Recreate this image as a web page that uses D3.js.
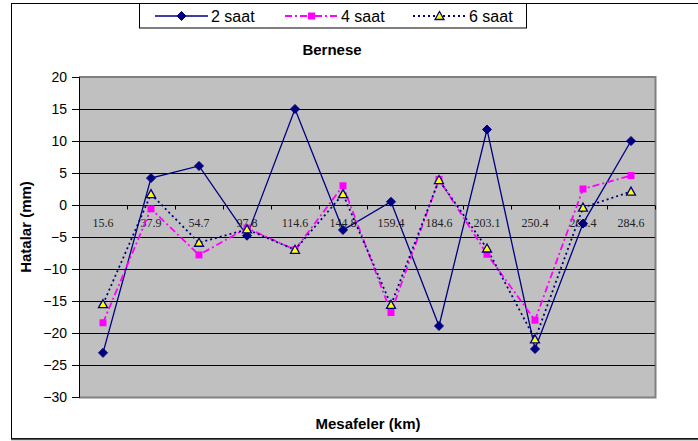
<!DOCTYPE html>
<html>
<head>
<meta charset="utf-8">
<script src="https://cdn.jsdelivr.net/npm/d3@7"></script>
<style>
  body { margin: 0; background: #fff; }
  svg { display: block; font-family: "Liberation Sans", Arial, sans-serif; }
</style>
</head>
<body>
<svg id="chart" width="698" height="441"></svg>
<script>
var distances = ["15.6", "37.9", "54.7", "97.8", "114.6", "144.8", "159.4", "184.6", "203.1", "250.4", "266.4", "284.6"];
var saat2 = [-23.1, 4.2, 6.1, -4.8, 15.0, -3.9, 0.5, -18.9, 11.8, -22.5, -2.9, 10.0];
var saat4 = [-18.4, -0.6, -7.8, -3.6, -7.0, 3.0, -16.8, 4.0, -7.7, -18.0, 2.5, 4.6];
var saat6 = [-15.5, 1.7, -5.9, -3.8, -7.0, 1.7, -15.6, 3.9, -6.8, -21.0, -0.4, 2.1];
var yTicks = [-30, -25, -20, -15, -10, -5, 0, 5, 10, 15, 20];

var series = [
  { name: "2 saat", values: saat2, color: "#000080", dash: null, marker: "diamond" },
  { name: "4 saat", values: saat4, color: "#ff00ff", dash: "7,3,2,3", marker: "square" },
  { name: "6 saat", values: saat6, color: "#000080", dash: "2,3", marker: "triangle" }
];

var svg = d3.select("#chart");
var plotL = 79, plotR = 655, plotT = 77, plotB = 397;

var x = d3.scaleBand().domain(distances).range([plotL, plotR]).padding(0);
var y = d3.scaleLinear().domain([-30, 20]).range([plotB, plotT]);

// outer chart border
svg.append("rect")
  .attr("x", 11.5).attr("y", 3.5).attr("width", 700).attr("height", 435)
  .style("fill", "none").style("stroke", "#000").style("stroke-width", 1);
svg.append("line")
  .attr("x1", 11).attr("x2", 698).attr("y1", 439.5).attr("y2", 439.5)
  .style("stroke", "#555").style("stroke-width", 1.5);

// plot area
svg.append("rect")
  .attr("x", plotL).attr("y", plotT).attr("width", plotR - plotL).attr("height", plotB - plotT)
  .style("fill", "#c0c0c0");
svg.append("path")
  .attr("d", "M" + plotL + "," + plotT + "H" + (plotR + 0.5) + "V" + (plotB + 0.5) + "H" + plotL)
  .style("fill", "none").style("stroke", "#808080").style("stroke-width", 2);

// gridlines
svg.selectAll("line.grid")
  .data(yTicks.filter(function(d) { return d > -30 && d < 20; }))
  .enter().append("line")
  .attr("class", "grid")
  .attr("x1", plotL).attr("x2", plotR)
  .attr("y1", function(d) { return Math.round(y(d)) + 0.5; })
  .attr("y2", function(d) { return Math.round(y(d)) + 0.5; })
  .style("stroke", "#000").style("stroke-width", 1);

// y axis
var yAxis = svg.append("g")
  .attr("transform", "translate(" + plotL + ",0)")
  .call(d3.axisLeft(y).tickValues(yTicks).tickSize(7).tickPadding(5));
yAxis.select(".domain").style("stroke", "#000");
yAxis.selectAll("text").style("font-size", "14px").style("fill", "#000");

// x axis on zero line, ticks at band edges
var zeroY = Math.round(y(0)) + 0.5;
var edges = distances.map(function(d) { return x(d); }).concat([plotR]);
svg.selectAll("line.xtick")
  .data(edges)
  .enter().append("line")
  .attr("class", "xtick")
  .attr("x1", function(d) { return Math.round(d) + 0.5; })
  .attr("x2", function(d) { return Math.round(d) + 0.5; })
  .attr("y1", zeroY).attr("y2", zeroY + 4)
  .style("stroke", "#000");

svg.selectAll("text.cat")
  .data(distances)
  .enter().append("text")
  .attr("class", "cat")
  .attr("x", function(d) { return x(d) + x.bandwidth() / 2; })
  .attr("y", y(0) + 22)
  .attr("text-anchor", "middle")
  .style("font-family", "'Liberation Serif', 'Times New Roman', serif")
  .style("font-size", "12px")
  .style("fill", "#222")
  .text(function(d) { return d; });

// series lines and markers
function drawMarker(g, type) {
  if (type === "diamond") {
    g.append("path").attr("d", "M0,-4.5L4.5,0L0,4.5L-4.5,0Z").style("fill", "#000080").style("stroke", "#000080");
  } else if (type === "square") {
    g.append("rect").attr("x", -3.5).attr("y", -3.5).attr("width", 7).attr("height", 7).style("fill", "#ff00ff");
  } else {
    g.append("path").attr("d", "M0,-4.5L4.5,3.5L-4.5,3.5Z").style("fill", "#ffff00").style("stroke", "#000080").style("stroke-width", 1.3);
  }
}

var line = d3.line()
  .x(function(d, i) { return x(distances[i]) + x.bandwidth() / 2; })
  .y(function(d) { return y(d); });

series.forEach(function(s) {
  svg.append("path")
    .datum(s.values)
    .attr("d", line)
    .style("fill", "none")
    .style("stroke", s.color)
    .style("stroke-width", s.dash ? 1.8 : 1.3)
    .style("stroke-dasharray", s.dash);
});
series.forEach(function(s) {
  s.values.forEach(function(v, i) {
    var g = svg.append("g")
      .attr("transform", "translate(" + (x(distances[i]) + x.bandwidth() / 2) + "," + y(v) + ")");
    drawMarker(g, s.marker);
  });
});

// titles
svg.append("text")
  .attr("x", 332).attr("y", 55)
  .attr("text-anchor", "middle")
  .style("font-size", "15px").style("font-weight", "bold")
  .text("Bernese");
svg.append("text")
  .attr("x", 368).attr("y", 429)
  .attr("text-anchor", "middle")
  .style("font-size", "15px").style("font-weight", "bold")
  .text("Mesafeler (km)");
svg.append("text")
  .attr("transform", "translate(31,227) rotate(-90)")
  .attr("text-anchor", "middle")
  .style("font-size", "15px").style("font-weight", "bold")
  .text("Hatalar (mm)");

// legend
svg.append("rect")
  .attr("x", 139.5).attr("y", 3.5).attr("width", 387).attr("height", 24.5)
  .style("fill", "#fff").style("stroke", "#000");
var legendX = [155, 285, 413];
series.forEach(function(s, i) {
  var lg = svg.append("g").attr("transform", "translate(" + legendX[i] + ",16)");
  lg.append("line")
    .attr("x1", 0).attr("x2", 53).attr("y1", 0).attr("y2", 0)
    .style("stroke", s.color)
    .style("stroke-width", s.dash ? 1.8 : 1.3)
    .style("stroke-dasharray", s.dash);
  drawMarker(lg.append("g").attr("transform", "translate(26.5,0)"), s.marker);
  lg.append("text")
    .attr("x", 56).attr("y", 5.5)
    .style("font-size", "16px")
    .text(s.name);
});
</script>
</body>
</html>
